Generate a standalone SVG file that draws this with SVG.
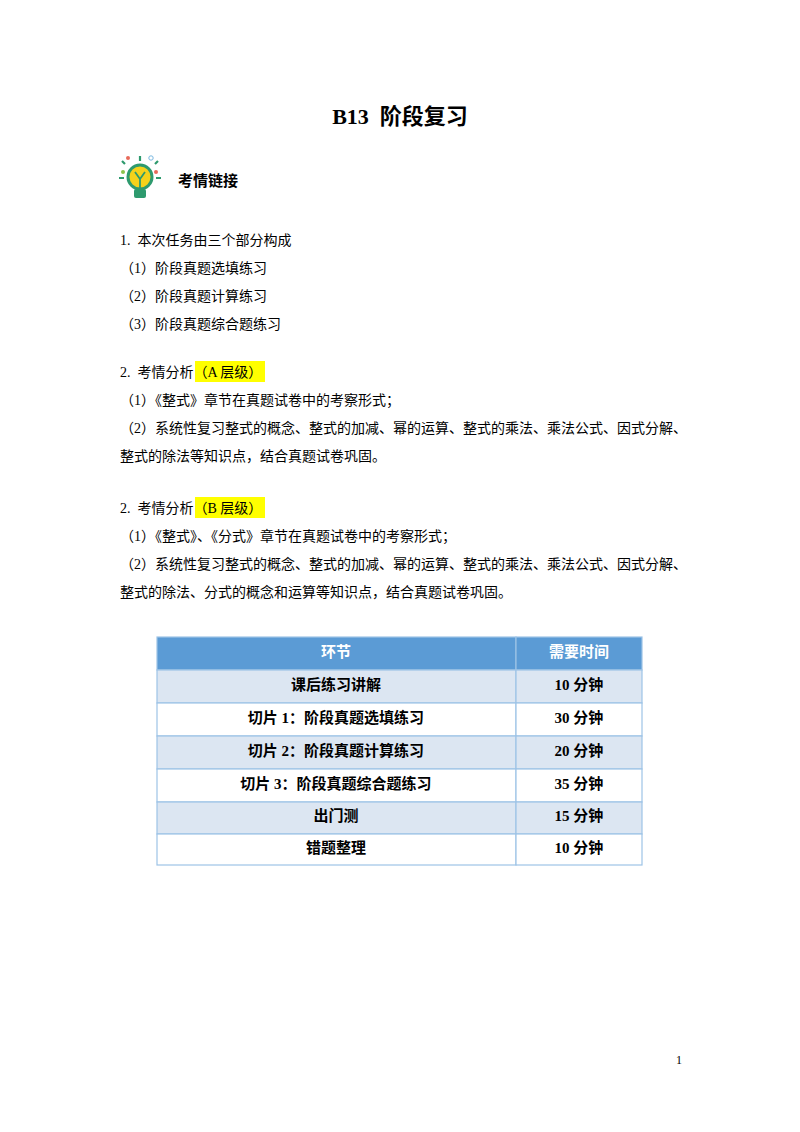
<svg xmlns="http://www.w3.org/2000/svg" width="800" height="1132" viewBox="0 0 800 1132">
<style>
.t{font-family:"Liberation Serif","Noto Sans CJK SC",serif;font-size:14px;fill:#000}
.b{font-family:"Liberation Serif","Noto Sans CJK SC",sans-serif;font-weight:bold;font-size:15px;fill:#000;text-anchor:middle}
.h{fill:#ff0}
.cell{stroke:#9dc3e6;stroke-width:1.2}
</style>
<rect width="800" height="1132" fill="#fff"/>
<text x="400" y="124" text-anchor="middle" style="font-family:'Liberation Serif','Noto Sans CJK SC',serif;font-weight:bold;font-size:22px" xml:space="preserve">B13  阶段复习</text>
<g id="icon">
<circle cx="140" cy="177" r="12" fill="#f5d21b" stroke="#2e9a6e" stroke-width="3"/>
<rect x="134" y="189" width="12" height="9" rx="2" fill="#2e9a6e"/>
<path d="M135 172 l5 7 l5 -7 M140 179 v10" stroke="#2e9a6e" stroke-width="1.8" fill="none"/>
<path d="M140 161 v-5 M125 164 l-3 -3 M155 164 l3 -3 M124 178 h-5 M156 178 h5" stroke="#2e9a6e" stroke-width="2.2"/>
<circle cx="128" cy="158" r="2" fill="#e86a5a"/><circle cx="151" cy="158" r="2.2" fill="none" stroke="#7ab8e0"/><circle cx="156" cy="172" r="2" fill="#e86a5a"/><circle cx="123" cy="172" r="2" fill="#8bc34a"/>
</g>
<text x="178" y="186" style="font-family:'Noto Sans CJK SC',sans-serif;font-weight:bold;font-size:15px">考情链接</text>
<text class="t" x="120" y="245" xml:space="preserve">1.  本次任务由三个部分构成</text>
<text class="t" x="120" y="273">（1）阶段真题选填练习</text>
<text class="t" x="120" y="301">（2）阶段真题计算练习</text>
<text class="t" x="120" y="329">（3）阶段真题综合题练习</text>
<rect class="h" x="195" y="361" width="70" height="21"/>
<text class="t" x="120" y="377" xml:space="preserve">2.  考情分析（A 层级）</text>
<text class="t" x="120" y="405">（1）《整式》章节在真题试卷中的考察形式；</text>
<text class="t" x="120" y="433">（2）系统性复习整式的概念、整式的加减、幂的运算、整式的乘法、乘法公式、因式分解、</text>
<text class="t" x="120" y="461">整式的除法等知识点，结合真题试卷巩固。</text>
<rect class="h" x="195" y="497" width="70" height="21"/>
<text class="t" x="120" y="513" xml:space="preserve">2.  考情分析（B 层级）</text>
<text class="t" x="120" y="541">（1）《整式》、《分式》章节在真题试卷中的考察形式；</text>
<text class="t" x="120" y="569">（2）系统性复习整式的概念、整式的加减、幂的运算、整式的乘法、乘法公式、因式分解、</text>
<text class="t" x="120" y="597">整式的除法、分式的概念和运算等知识点，结合真题试卷巩固。</text>
<g id="table">
<rect class="cell" x="157" y="637" width="359" height="33" fill="#5b9bd5"/>
<rect class="cell" x="516" y="637" width="126" height="33" fill="#5b9bd5"/>
<rect class="cell" x="157" y="670" width="359" height="33" fill="#dce6f2"/>
<rect class="cell" x="516" y="670" width="126" height="33" fill="#dce6f2"/>
<rect class="cell" x="157" y="703" width="359" height="33" fill="#fff"/>
<rect class="cell" x="516" y="703" width="126" height="33" fill="#fff"/>
<rect class="cell" x="157" y="736" width="359" height="33" fill="#dce6f2"/>
<rect class="cell" x="516" y="736" width="126" height="33" fill="#dce6f2"/>
<rect class="cell" x="157" y="769" width="359" height="33" fill="#fff"/>
<rect class="cell" x="516" y="769" width="126" height="33" fill="#fff"/>
<rect class="cell" x="157" y="802" width="359" height="32" fill="#dce6f2"/>
<rect class="cell" x="516" y="802" width="126" height="32" fill="#dce6f2"/>
<rect class="cell" x="157" y="834" width="359" height="31" fill="#fff"/>
<rect class="cell" x="516" y="834" width="126" height="31" fill="#fff"/>
<text class="b" x="336" y="657" style="fill:#fff">环节</text>
<text class="b" x="579" y="657" style="fill:#fff">需要时间</text>
<text class="b" x="336" y="690">课后练习讲解</text><text class="b" x="579" y="690">10 分钟</text>
<text class="b" x="336" y="723">切片 1：阶段真题选填练习</text><text class="b" x="579" y="723">30 分钟</text>
<text class="b" x="336" y="756">切片 2：阶段真题计算练习</text><text class="b" x="579" y="756">20 分钟</text>
<text class="b" x="336" y="789">切片 3：阶段真题综合题练习</text><text class="b" x="579" y="789">35 分钟</text>
<text class="b" x="336" y="821">出门测</text><text class="b" x="579" y="821">15 分钟</text>
<text class="b" x="336" y="853">错题整理</text><text class="b" x="579" y="853">10 分钟</text>
</g>
<text x="676" y="1064" style="font-family:'Liberation Serif',serif;font-size:12px">1</text>
</svg>
